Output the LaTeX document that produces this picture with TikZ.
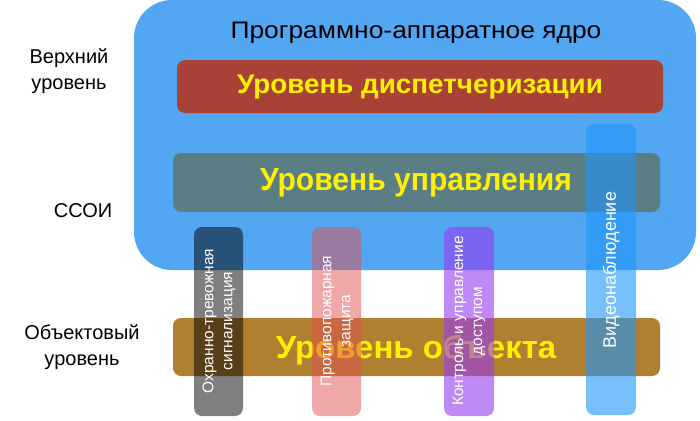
\documentclass[tikz,border=0pt]{standalone}
\usepackage{graphicx}
\usepackage{fontspec}
\setmainfont{Liberation Sans}
\definecolor{coreblue}{RGB}{82,166,242}
\definecolor{disp}{RGB}{168,66,54}
\definecolor{upr}{RGB}{90,126,132}
\definecolor{obj}{RGB}{176,127,48}
\definecolor{lvltext}{RGB}{255,240,0}
\definecolor{vb1}{RGB}{0,0,0}
\definecolor{vb2}{RGB}{225,81,81}
\definecolor{vb3}{RGB}{150,60,240}
\definecolor{vb4}{RGB}{30,150,250}
\tikzset{
  levelbar/.style={rounded corners=8pt},
  leveltext/.style={text=lvltext, inner sep=0pt},
  vbar/.style={rounded corners=8pt},
  vtext/.style={text=white, rotate=90, align=center, font=\fontsize{15.5}{19}\selectfont},
  sidelabel/.style={align=center, font=\fontsize{20}{26}\selectfont},
}
\begin{document}
\begin{tikzpicture}[x=1pt,y=-1pt]
\useasboundingbox (0,0) rectangle (700,420);
\fill[white] (0,0) rectangle (700,420);
% core
\fill[coreblue, rounded corners=38pt] (134,0) rectangle (696,270);
\node[inner sep=0pt] (title) at (416,33) {\fontsize{24}{28}\selectfont\scalebox{1.1}[1]{Программно-аппаратное ядро}};
% levels
\fill[disp, levelbar] (177,60) rectangle (663,113);
\node[leveltext] (disptext) at (420,87) {\fontsize{27}{32}\selectfont\bfseries\scalebox{1.03}[1]{Уровень диспетчеризации}};
\fill[upr, levelbar] (173,153) rectangle (660,212);
\node[leveltext] (uprtext) at (416,183) {\fontsize{32}{36}\selectfont\bfseries\scalebox{0.94}[1]{Уровень управления}};
\fill[obj, levelbar] (173,318) rectangle (660,376);
\node[leveltext] (objtext) at (416,350) {\fontsize{32}{36}\selectfont\bfseries\scalebox{1.03}[1]{Уровень объекта}};
% vertical bars
\fill[vb1, fill opacity=0.5, vbar] (194,227) rectangle (243,416);
\fill[vb2, fill opacity=0.5, vbar] (312,227) rectangle (361,416);
\fill[vb3, fill opacity=0.6, vbar] (444,227) rectangle (494,416);
\fill[vb4, fill opacity=0.6, vbar] (586,124) rectangle (636,415);
\node[vtext] (ots) at (219,321) {Охранно-тревожная\\сигнализация};
\node[vtext] (ppz) at (337,321) {Противопожарная\\защита};
\node[vtext] (kud) at (469,321) {Контроль и управление\\доступом};
\node[vtext, font=\fontsize{18}{22}\selectfont] (vn) at (611,270) {Видеонаблюдение};
% side labels
\node[sidelabel] (top) at (69,71) {Верхний\\уровень};
\node[sidelabel] (ssoi) at (83,211) {ССОИ};
\node[sidelabel] (objlvl) at (82,347) {Объектовый\\уровень};
\end{tikzpicture}
\end{document}
